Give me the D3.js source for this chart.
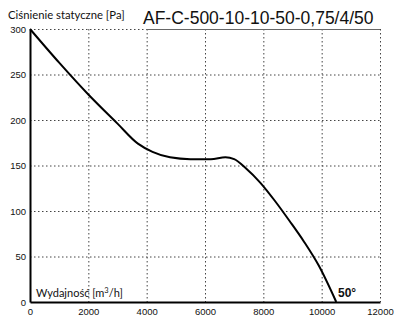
<!DOCTYPE html>
<html>
<head>
<meta charset="utf-8">
<script src="https://cdn.jsdelivr.net/npm/d3@7"></script>
<style>
  html, body { margin: 0; padding: 0; background: #fff; }
  svg { display: block; }
</style>
</head>
<body>
<svg id="chart" width="400" height="327"></svg>
<script>
// Fan characteristic: static pressure vs. air flow
const flow =     [0,   1000, 2000, 3000, 3700, 4200, 4800, 5500, 6200, 6700, 7000, 7400, 7900, 8400, 8900, 9400, 9900, 10500];
const pressure = [300, 263,  228,  196,  174,  165,  159,  157,  157,  159,  157,  147,  131,  111,  89,   66,   40,   0];

const xTicks = [0, 2000, 4000, 6000, 8000, 10000, 12000];
const yTicks = [0, 50, 100, 150, 200, 250, 300];

const titleText = "AF-C-500-10-10-50-0,75/4/50";
const yLabel = "Ciśnienie statyczne [Pa]";
const angleLabel = "50°";

const svg = d3.select("#chart");
const x = d3.scaleLinear().domain([0, 12000]).range([30, 380]);
const y = d3.scaleLinear().domain([0, 300]).range([302, 29]);

// grid
const grid = svg.append("g").attr("stroke", "#444").attr("stroke-width", 1)
  .attr("stroke-dasharray", "1.5,2.5").attr("fill", "none");
xTicks.filter(d => d > 0).forEach(d => {
  grid.append("line").attr("x1", x(d) + 0.5).attr("x2", x(d) + 0.5)
    .attr("y1", y(300)).attr("y2", y(0));
});
yTicks.filter(d => d > 0 && d < 300).forEach(d => {
  grid.append("line").attr("x1", x(0)).attr("x2", x(12000))
    .attr("y1", y(d) + 0.5).attr("y2", y(d) + 0.5);
});
// top line: dotted on the left, solid under the title
grid.append("line").attr("x1", x(0)).attr("x2", 146)
  .attr("y1", y(300) + 0.5).attr("y2", y(300) + 0.5);
svg.append("line").attr("x1", 146).attr("x2", x(12000))
  .attr("y1", y(300) + 0.5).attr("y2", y(300) + 0.5)
  .attr("stroke", "#666").attr("stroke-width", 1);

// axes
const xAxis = d3.axisBottom(x).tickValues(xTicks).tickSize(0).tickPadding(6).tickFormat(d3.format("d"));
const yAxis = d3.axisLeft(y).tickValues(yTicks).tickSize(0).tickPadding(4).tickFormat(d3.format("d"));

const gx = svg.append("g").attr("transform", `translate(0,${y(0)})`).call(xAxis);
const gy = svg.append("g").attr("transform", `translate(${x(0)},0)`).call(yAxis);
[gx, gy].forEach(g => {
  g.select(".domain").attr("stroke", "#000").attr("stroke-width", 2);
  g.selectAll("text").attr("font-family", "Liberation Sans, Arial, sans-serif")
    .attr("font-size", 9.5).attr("fill", "#111");
});

// curve
const line = d3.line().x((d, i) => x(flow[i])).y(d => y(d)).curve(d3.curveMonotoneX);
svg.append("path").datum(pressure)
  .attr("d", line).attr("fill", "none").attr("stroke", "#000").attr("stroke-width", 2);

// labels
svg.append("text").attr("x", 8).attr("y", 19)
  .attr("font-family", "Lato, sans-serif").attr("font-size", 11.3).attr("fill", "#111")
  .text(yLabel);

svg.append("text").attr("x", 143).attr("y", 24)
  .attr("font-family", "Liberation Sans, Arial, sans-serif").attr("font-size", 17.5).attr("fill", "#111")
  .text(titleText);

const xl = svg.append("text").attr("x", 36).attr("y", 297)
  .attr("font-family", "Lato, sans-serif").attr("font-size", 11).attr("fill", "#111");
xl.append("tspan").text("Wydajność [m");
xl.append("tspan").attr("font-size", 7.5).attr("dy", -4).text("3");
xl.append("tspan").attr("dy", 4).text("/h]");

svg.append("text").attr("x", 338).attr("y", 297)
  .attr("font-family", "Liberation Sans, Arial, sans-serif").attr("font-size", 12)
  .attr("font-weight", "bold").attr("fill", "#111")
  .text(angleLabel);
</script>
</body>
</html>
